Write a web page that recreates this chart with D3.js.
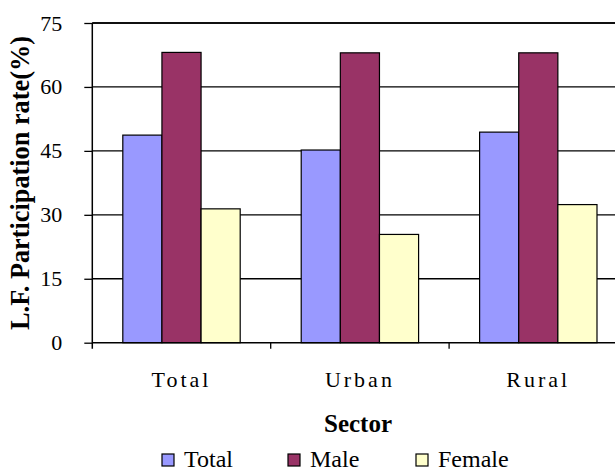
<!DOCTYPE html>
<html><head><meta charset="utf-8">
<script src="https://cdn.jsdelivr.net/npm/d3@7"></script>
<style>body{margin:0;background:#fff}svg{display:block}
text{font-family:"Liberation Serif","Times New Roman",Tinos,"Nimbus Roman","DejaVu Serif",serif}</style>
</head><body>
<script>
const categories = ["Total", "Urban", "Rural"];
const seriesNames = ["Total", "Male", "Female"];
const totalValues = [48.7, 45.2, 49.4];
const maleValues = [68.1, 68.0, 68.0];
const femaleValues = [31.4, 25.4, 32.4];
const yTicks = [0, 15, 30, 45, 60, 75];
const colors = ["#9999FF", "#993366", "#FFFFCC"];
const seriesValues = [totalValues, maleValues, femaleValues];

const W = 615, H = 470;
const pLeft = 92.3, pRight = 627.5, pTop = 23, pBottom = 342.7;
const font = '"Liberation Serif","Times New Roman",Tinos,"DejaVu Serif",serif';

const svg = d3.select("body").append("svg").attr("width", W).attr("height", H);

const x0 = d3.scaleBand().domain(categories).range([pLeft, pRight]).padding(0);
const groupW = x0.step() * 0.658;
const x1 = d3.scaleBand().domain(seriesNames).range([0, groupW]).padding(0);
const y = d3.scaleLinear().domain([0, 75]).range([pBottom, pTop]);

// gridlines
svg.append("g").selectAll("line").data(yTicks.filter(d => d > 0)).join("line")
  .attr("x1", pLeft).attr("x2", pRight).attr("y1", d => y(d)).attr("y2", d => y(d))
  .attr("stroke", "#000").attr("stroke-width", 1.3);

// bars
const groups = svg.append("g").selectAll("g").data(categories).join("g")
  .attr("transform", c => `translate(${x0(c) + (x0.step() - groupW) / 2},0)`);
groups.selectAll("rect").data((c, i) => seriesNames.map((s, j) => ({s, v: seriesValues[j][i], j})))
  .join("rect")
  .attr("x", d => x1(d.s)).attr("width", x1.bandwidth())
  .attr("y", d => y(d.v)).attr("height", d => y(0) - y(d.v))
  .attr("fill", d => colors[d.j]).attr("stroke", "#000").attr("stroke-width", 1.2);

// y axis
const yAxis = svg.append("g").attr("transform", `translate(${pLeft},0)`)
  .call(d3.axisLeft(y).tickValues(yTicks).tickSize(8).tickPadding(22));
yAxis.attr("font-family", null).attr("font-size", null);
yAxis.select(".domain").attr("stroke", "#000").attr("stroke-width", 1.5)
  .attr("d", `M0,${pTop}V${pBottom + 6}`);
yAxis.selectAll(".tick line").attr("stroke-width", 1.3);
yAxis.selectAll(".tick text").style("font-family", font).style("font-size", "22px").attr("fill", "#000")
  .attr("x", -30);

// x axis
const xAxisG = svg.append("g").attr("transform", `translate(0,${pBottom})`);
xAxisG.append("line").attr("x1", pLeft).attr("x2", pRight).attr("y1", 0).attr("y2", 0)
  .attr("stroke", "#000").attr("stroke-width", 1.5);
xAxisG.selectAll("line.tk").data(categories.slice(1)).join("line").attr("class", "tk")
  .attr("x1", c => x0(c)).attr("x2", c => x0(c)).attr("y1", 0).attr("y2", 6)
  .attr("stroke", "#000").attr("stroke-width", 1.3);
xAxisG.selectAll("text").data(categories).join("text")
  .attr("x", c => x0(c) + x0.step() / 2).attr("y", 44)
  .attr("text-anchor", "middle").style("font-family", font).style("font-size", "22px")
  .attr("letter-spacing", 3).text(c => c);

// top frame line
svg.append("line").attr("x1", pLeft).attr("x2", pRight).attr("y1", pTop).attr("y2", pTop)
  .attr("stroke", "#000").attr("stroke-width", 1.5);

// axis titles
svg.append("text").attr("x", 358).attr("y", 432).attr("text-anchor", "middle")
  .style("font-family", font).attr("font-weight", "bold").style("font-size", "25px").text("Sector");
const yLabel = svg.append("text").attr("transform", "translate(29,183) rotate(-90)").attr("text-anchor", "middle")
  .style("font-family", font).attr("font-weight", "bold").style("font-size", "25px")
  .text("L.F. Participation rate(%)");
// fit the rotated title to the span it covers in the reference (~y 36 to 330)
const len = yLabel.node().getComputedTextLength();
if (len > 0) yLabel.style("font-size", (25 * 294 / len).toFixed(2) + "px");

// legend
const legendX = [162, 288, 416];
const lg = svg.append("g").selectAll("g").data(seriesNames).join("g")
  .attr("transform", (d, i) => `translate(${legendX[i]},454)`);
lg.append("rect").attr("width", 12).attr("height", 12)
  .attr("fill", (d, i) => colors[i]).attr("stroke", "#000").attr("stroke-width", 1.2);
lg.append("text").attr("x", 22).attr("y", 12.5).style("font-family", font).style("font-size", "24px")
  .text(d => d);
</script>
</body></html>
